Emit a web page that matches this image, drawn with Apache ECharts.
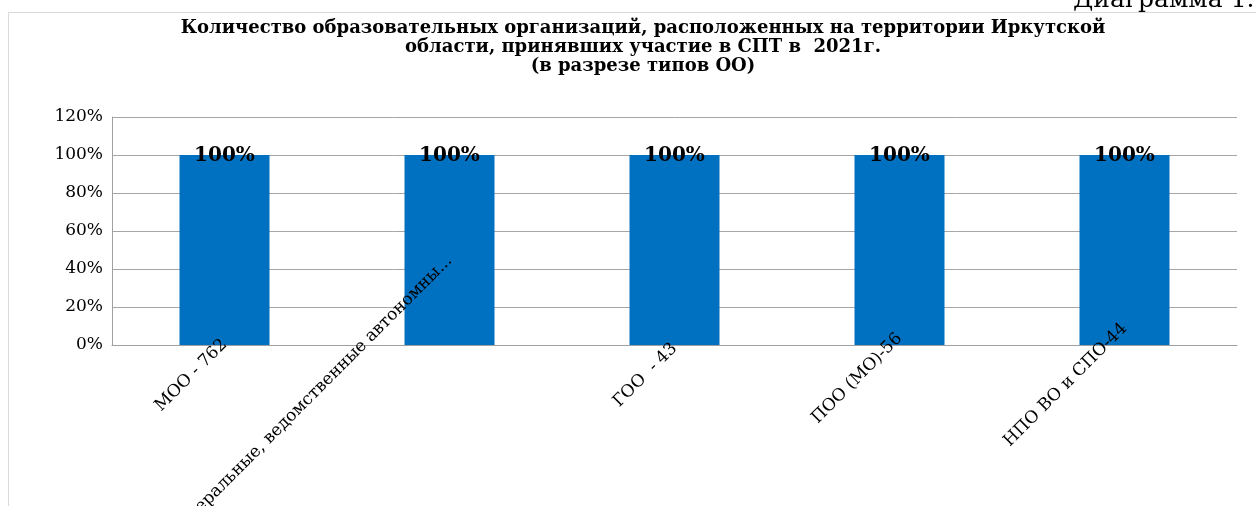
<!DOCTYPE html>
<html>
<head>
<meta charset="utf-8">
<script src="https://cdn.jsdelivr.net/npm/echarts@6/dist/echarts.min.js"></script>
<style>
  html, body { margin: 0; padding: 0; background: #ffffff; }
  #chart { width: 1256px; height: 506px; }
</style>
</head>
<body>
<div id="chart"></div>
<script>
// ---- data ----
const titleLines = [
  'Количество образовательных организаций, расположенных на территории Иркутской',
  'области, принявших участие в СПТ в  2021г.',
  '(в разрезе типов ОО)'
];
const categories = [
  'МОО - 762',
  'Федеральные, ведомственные автономны...',
  'ГОО  - 43',
  'ПОО (МО)-56',
  'НПО ВО и СПО-44'
];
const shares = [100, 100, 100, 100, 100];
const yMin = 0;
const yMax = 120;
const yStep = 20;
const captionText = 'Диаграмма 1.';

// ---- layout of the rotated category labels (how far each label end sits below the highest one, px) ----
const labelDrop = [84, 0, 88, 78, 68];
const labelLineHeight = 17;

const serif = '"DejaVu Serif", "Liberation Serif", serif';

const axisData = categories.map(function (name, i) {
  const s = labelDrop[i] / Math.SQRT2;
  return {
    value: name,
    textStyle: {
      verticalAlign: 'top',
      lineHeight: labelLineHeight,
      padding: [s - labelLineHeight / 2, s, 0, 0]
    }
  };
});

const chart = echarts.init(document.getElementById('chart'), null, { renderer: 'canvas' });

chart.setOption({
  animation: false,
  backgroundColor: '#ffffff',
  title: {
    text: titleLines.join('\n'),
    left: 643,
    textAlign: 'center',
    top: 19,
    padding: 0,
    textStyle: {
      fontFamily: serif,
      fontWeight: 'bold',
      fontSize: 18,
      lineHeight: 19,
      color: '#000000'
    }
  },
  graphic: [
    {
      type: 'rect',
      z: -10,
      silent: true,
      shape: { x: 8.5, y: 12.5, width: 1400, height: 700 },
      style: { fill: 'none', stroke: '#d9d9d9', lineWidth: 1 }
    },
    {
      type: 'text',
      silent: true,
      x: 1073,
      y: -12,
      style: {
        text: captionText,
        font: '25px "DejaVu Serif"',
        fill: '#000000',
        verticalAlign: 'top'
      }
    }
  ],
  grid: {
    left: 112,
    right: 19,
    top: 117,
    bottom: 161,
    containLabel: false,
    outerBoundsMode: 'none'
  },
  xAxis: {
    type: 'category',
    z: 5,
    data: axisData,
    axisTick: { show: false },
    axisLine: { show: true, lineStyle: { color: '#a0a0a0', width: 1 } },
    axisLabel: {
      interval: 0,
      rotate: 45,
      margin: -87,
      hideOverlap: false,
      fontFamily: serif,
      fontSize: 17,
      color: '#000000'
    },
    splitLine: { show: false }
  },
  yAxis: {
    type: 'value',
    min: yMin,
    max: yMax,
    interval: yStep,
    axisLine: { show: true, lineStyle: { color: '#a0a0a0', width: 1 } },
    axisTick: { show: false },
    axisLabel: {
      formatter: '{value}%',
      margin: 9,
      fontFamily: serif,
      fontSize: 17,
      color: '#000000'
    },
    splitLine: { show: true, lineStyle: { color: '#a6a6a6', width: 1 } }
  },
  series: [
    {
      type: 'bar',
      data: shares,
      barWidth: 90,
      itemStyle: { color: '#0070C0' },
      label: {
        show: true,
        position: 'top',
        distance: 0,
        offset: [0, 11],
        formatter: '{c}%',
        fontFamily: serif,
        fontWeight: 'bold',
        fontSize: 20,
        color: '#000000'
      }
    }
  ]
});
</script>
</body>
</html>
